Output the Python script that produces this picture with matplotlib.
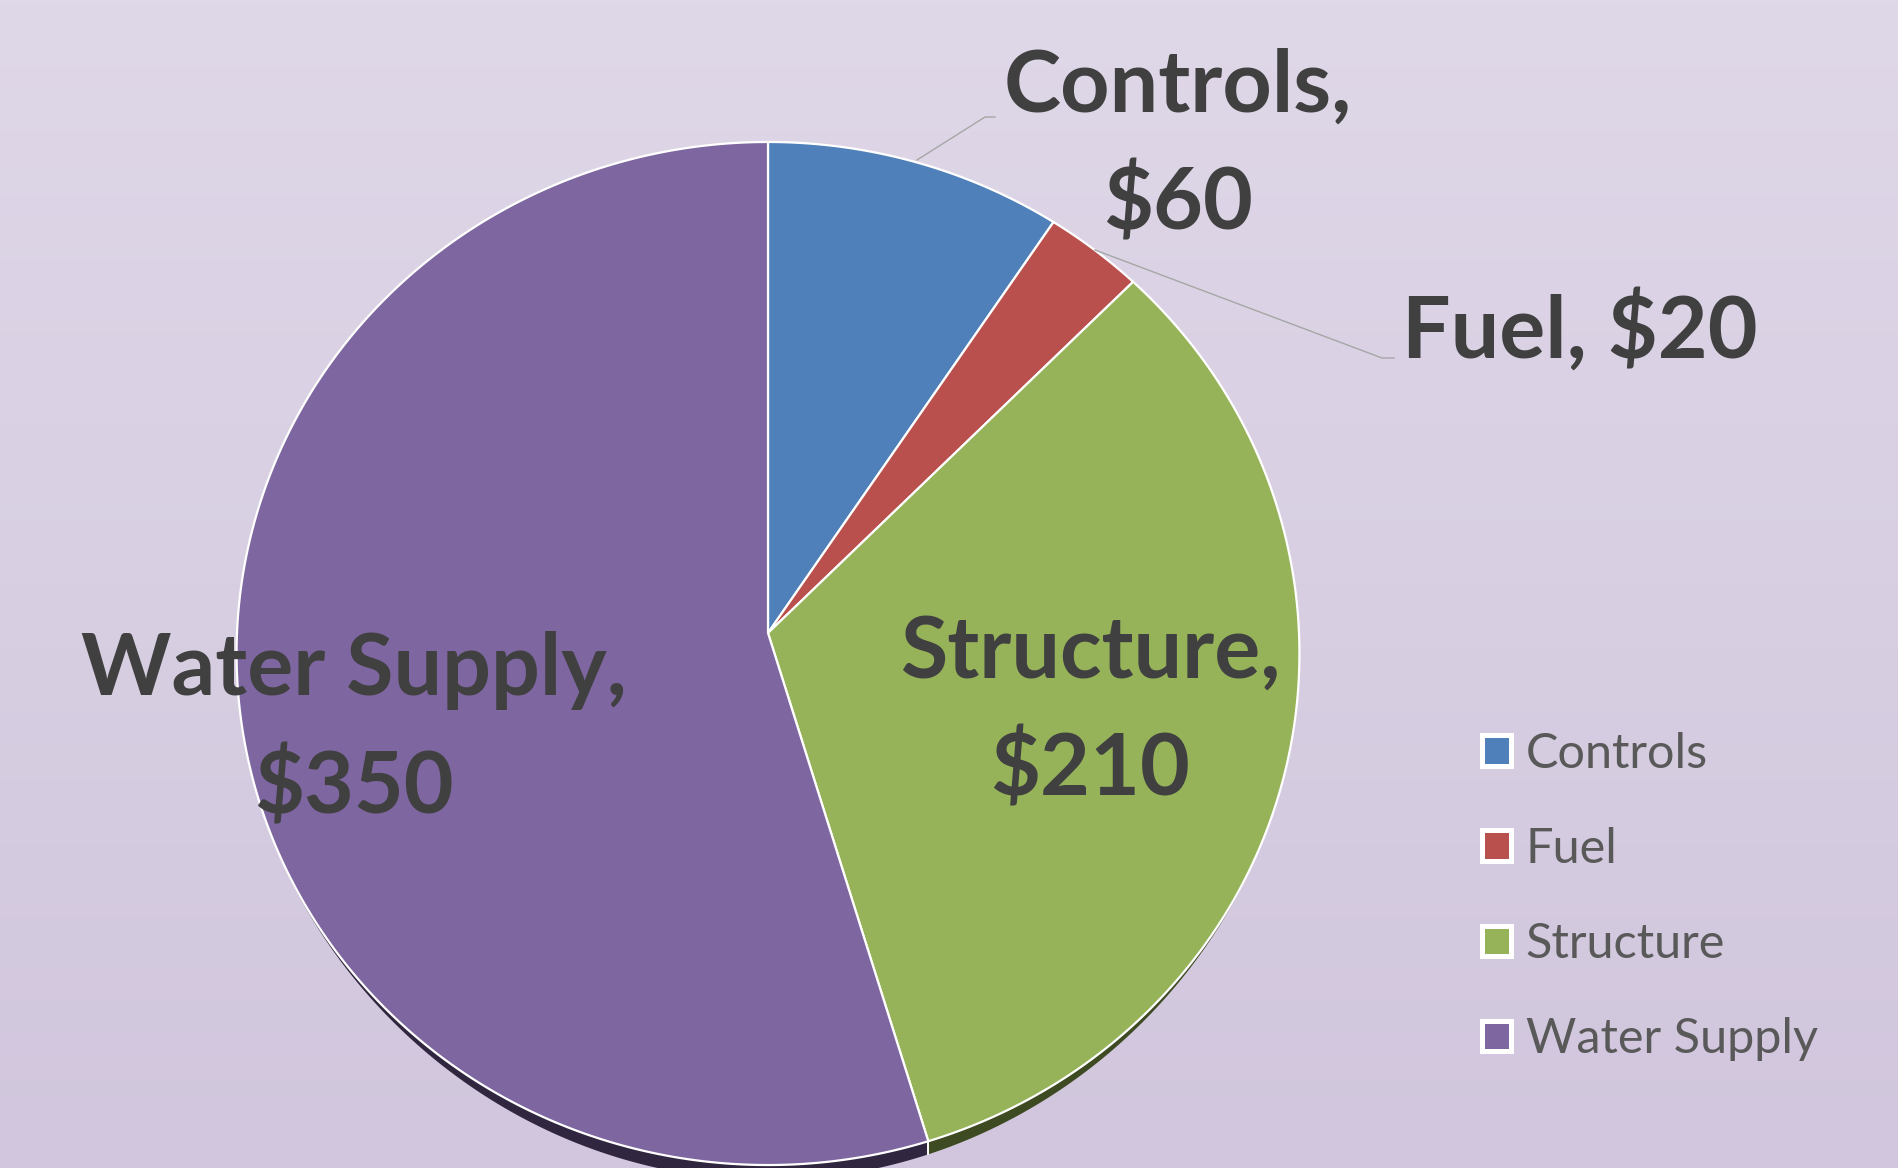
import numpy as np
import matplotlib
matplotlib.use('Agg')
import matplotlib.pyplot as plt
from matplotlib.patches import Polygon, Patch
from matplotlib.font_manager import FontProperties

# ---------------- data ----------------
categories = ['Controls', 'Fuel', 'Structure', 'Water Supply']
values = [60, 20, 210, 350]
value_labels = ['$60', '$20', '$210', '$350']
colors = ['#4f80b9', '#b9504d', '#96b35a', '#7e66a0']
side_colors = ['#263f5c', '#5c2624', '#3e4a22', '#31263f']

W, H = 1899, 1168
fig = plt.figure(figsize=(W / 100, H / 100), dpi=100)
ax = fig.add_axes([0, 0, 1, 1])

# ---------------- background gradient ----------------
g = np.linspace(0, 1, 256)[:, None, None]
top = np.array([223, 216, 232]) / 255
bot = np.array([209, 198, 221]) / 255
bg = top[None, None, :] * (1 - g) + bot[None, None, :] * g
bg = np.repeat(bg, 2, axis=1)
ax.imshow(bg, extent=(0, W, H, 0), aspect='auto', zorder=0)

# ---------------- pie (projected in slight perspective) ----------------
wedges, texts = ax.pie(values, startangle=90, counterclock=False, radius=1, center=(0, 0))

cx, cy, ra, rb, pc = 768, 633, 531, 510.7, 0.0401
depth = 15.0


def project(u, v, drop=0.0):
    d = 1 + pc * v
    X = cx + ra * u / d
    Y = cy - rb * v / d + drop * np.clip(-v, 0, None) ** 3
    return X, Y


geo = []
for w in wedges:
    th = np.radians(np.linspace(w.theta1, w.theta2, 400))
    u = w.center[0] + w.r * np.cos(th)
    v = w.center[1] + w.r * np.sin(th)
    geo.append((u, v, w.center))

# side of the 3D disc
for (u, v, c0), sc in zip(geo, side_colors):
    Xt, Yt = project(u, v)
    Xb, Yb = project(u, v, depth)
    pts = np.column_stack([np.concatenate([Xt, Xb[::-1]]), np.concatenate([Yt, Yb[::-1]])])
    ax.add_patch(Polygon(pts, closed=True, facecolor=sc, edgecolor='none', zorder=2))
    # white seam at slice boundary on the side
    for k in (0, -1):
        if v[k] < -0.05:
            xs, ys = project(np.array([u[k]]), np.array([v[k]]))
            ax.plot([xs[0], xs[0]], [ys[0], ys[0] + depth * abs(v[k]) ** 3],
                    color='white', lw=1.2, zorder=2.5)

# top faces
for (u, v, c0), col in zip(geo, colors):
    X, Y = project(u, v)
    X0, Y0 = project(np.array([c0[0]]), np.array([c0[1]]))
    pts = np.column_stack([np.concatenate([X0, X]), np.concatenate([Y0, Y])])
    ax.add_patch(Polygon(pts, closed=True, facecolor=col, edgecolor='white',
                         linewidth=1.6, joinstyle='round', zorder=3))

for w in wedges:
    w.remove()
for t in texts:
    t.remove()

ax.set_aspect('auto')
ax.set_xlim(0, W)
ax.set_ylim(H, 0)
ax.axis('off')

# ---------------- data labels ----------------
lab_font = dict(family='Lato', weight='bold', size=62, color='#404040')
ax.text(1178, 230, f'{categories[0]},\n{value_labels[0]}', ha='center', va='baseline',
        linespacing=1.55, zorder=5, **lab_font)
ax.text(1402, 358, f'{categories[1]}, {value_labels[1]}', ha='left', va='baseline',
        zorder=5, **lab_font)
ax.text(1090, 796, f'{categories[2]},\n{value_labels[2]}', ha='center', va='baseline',
        linespacing=1.55, zorder=5, **lab_font)
ax.text(354, 814, f'{categories[3]},\n{value_labels[3]}', ha='center', va='baseline',
        linespacing=1.55, zorder=5, **lab_font)

# leader lines
ax.plot([917, 985, 995], [160, 117, 117], color='#a6a6a6', lw=1.0, zorder=4)
ax.plot([1095, 1382, 1394], [250, 358, 358], color='#a6a6a6', lw=1.0, zorder=4)

# ---------------- legend ----------------
handles = [Patch(facecolor=c, edgecolor='white', linewidth=3.6) for c in colors]
ax.legend(handles, categories, loc='upper left', bbox_to_anchor=(1482, 732),
          bbox_transform=ax.transData, frameon=False,
          prop=FontProperties(family='Lato', size=35), labelcolor='#595959',
          handlelength=0.6, handleheight=0.6, handletextpad=0.3,
          labelspacing=1.05, borderpad=0, borderaxespad=0)

fig.savefig('out.png', dpi=100)
